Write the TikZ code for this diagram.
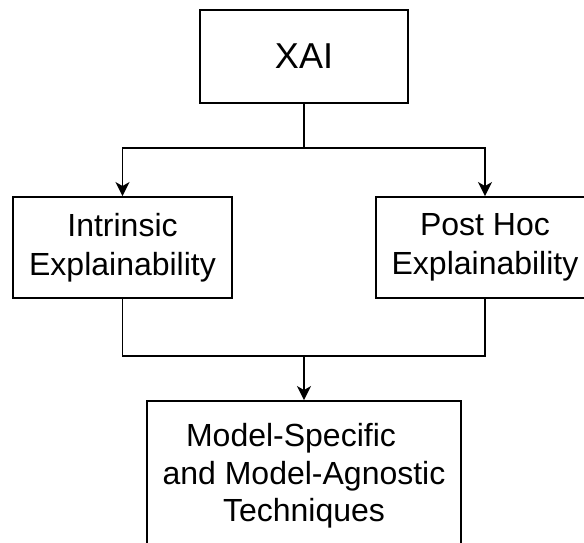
\documentclass[tikz,border=0pt]{standalone}
\usepackage{fontspec}
\setmainfont{Liberation Sans}
\usetikzlibrary{arrows.meta}
\begin{document}
\begin{tikzpicture}[x=1pt,y=-1pt,
  box/.style={draw, line width=1.9pt, align=center, inner sep=0pt, font=\fontsize{32}{39}\selectfont},
  conn/.style={line width=1.9pt},
  arr/.style={conn, -{Stealth[length=14pt,width=14pt,inset=4pt]}}]
\useasboundingbox (0,0) rectangle (584,542);
\clip (0,0) rectangle (584,542);
\node[box, minimum width=208, minimum height=93, font=\fontsize{36}{43}\selectfont] (xai) at (304,56.5) {XAI};
\node[box, minimum width=219, minimum height=101] (in) at (122.5,247.5) {Intrinsic\\Explainability};
\node[box, minimum width=218, minimum height=101] (ph) at (485,247.5) {Post Hoc\\Explainability};
\node[box, minimum width=314, minimum height=150, font=\fontsize{32}{37.5}\selectfont] (mt) at (304,476) {Model-Specific\hspace*{26pt}\\and Model-Agnostic\\Techniques};
\coordinate (j1) at (304,148);
\coordinate (j2) at (304,356);
\draw[conn] (xai.south) -- (j1);
\draw[arr] (j1) -| (in.north);
\draw[arr] (j1) -| (ph.north);
\draw[conn] (in.south) |- (j2);
\draw[conn] (ph.south) |- (j2);
\draw[arr] (j2) -- (mt.north);
\end{tikzpicture}
\end{document}
